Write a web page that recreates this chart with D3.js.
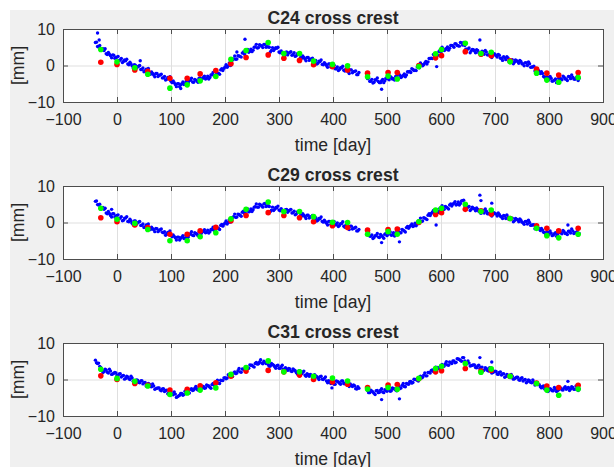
<!DOCTYPE html>
<html>
<head>
<meta charset="utf-8">
<script src="https://cdn.jsdelivr.net/npm/d3@7"></script>
<style>
  body { margin: 0; background: #ffffff; }
  text { font-family: "Liberation Sans", Arial, sans-serif; fill: #262626; }
</style>
</head>
<body>
<div id="grafico"></div>
<script>
// sampling days of the dense (blue) measurements, two campaigns,
// each read in two interleaved passes (A / A2, B / B2)
const blueDaysA = d3.range(-40, 449, 4);   // 123 days
const blueDaysA2 = d3.range(-38, 447, 4);  // 122 days
const blueDaysB = d3.range(464, 857, 4);   // 99 days
const blueDaysB2 = d3.range(466, 855, 4);  // 98 days

// days of the periodic survey points (red / green)
const markerDays = [-30, 0, 33, 57, 98, 130, 154, 183, 211, 239, 280, 309, 338, 364, 399,
                    427, 464, 502, 519, 559, 590, 601, 645, 674, 693, 728, 777, 796, 818, 854];

const xTicks = [-100, 0, 100, 200, 300, 400, 500, 600, 700, 800, 900];
const yTicks = [-10, 0, 10];

const titles = ['C24 cross crest', 'C29 cross crest', 'C31 cross crest'];

// ---- C24 ----
const c24BlueA = [
  6.3, 5.2, 5.5, 4.3, 4.1, 3.2, 3.6, 2.7, 2.9, 2.0,
  2.3, 1.4, 1.9, 1.1, 1.3, 0.4, 0.9, -0.1, 0.2, -0.7,
  -0.2, -1.1, -0.7, -1.5, -1.1, -2.1, -1.8, -2.6, -2.2, -3.0,
  -2.6, -3.4, -3.0, -3.8, -3.4, -4.3, -4.2, -5.2, -5.0, -5.8,
  -5.0, -5.2, -4.4, -4.7, -4.0, -4.5, -3.8, -4.2, -3.5, -4.0,
  -3.3, -3.7, -2.9, -3.3, -2.5, -2.8, -1.9, -2.2, -1.2, -1.4,
  -0.4, -0.5, 0.7, 0.6, 1.8, 1.7, 2.7, 2.5, 3.4, 3.1,
  4.0, 3.6, 4.5, 4.2, 5.1, 4.8, 5.7, 5.3, 5.8, 5.0,
  5.1, 3.7, 4.9, 4.5, 4.7, 3.7, 4.0, 3.1, 3.6, 2.9,
  3.6, 2.8, 3.5, 2.7, 3.1, 2.2, 2.6, 1.8, 2.2, 1.4,
  1.8, 1.0, 1.4, 0.6, 1.1, 0.3, 0.8, 0.0, 0.4, -0.4,
  -0.1, -0.9, -0.4, -1.1, -0.6, -1.3, -0.9, -1.7, -1.2, -2.0,
  -1.6, -2.5, -1.9
];
const c24BlueA2 = [
  6.4, 5.1, 4.2, 4.6, 4.6, 3.0, 3.1, 2.1, 2.8, 2.2,
  2.5, 1.5, 0.8, 1.5, 1.7, 0.2, 0.4, -0.7, 0.1, -0.4,
  0.0, -1.1, -1.7, -1.0, -0.8, -2.4, -2.2, -3.1, -2.2, -2.7,
  -2.4, -3.4, -4.0, -3.3, -3.1, -4.7, -4.7, -5.8, -5.0, -5.3,
  -4.5, -5.0, -5.2, -4.1, -3.5, -4.6, -4.0, -4.6, -3.4, -3.6,
  -2.9, -3.5, -3.7, -2.6, -1.9, -2.8, -2.1, -2.4, -0.9, -0.8,
  0.2, -0.1, 0.0, 1.5, 2.6, 1.8, 2.6, 2.3, 3.7, 3.7,
  4.4, 3.9, 3.8, 5.0, 5.8, 4.9, 5.5, 4.9, 5.8, 5.2,
  5.0, 4.1, 4.1, 4.9, 5.0, 3.5, 3.6, 2.7, 3.7, 3.4,
  3.8, 3.0, 2.5, 3.2, 3.5, 2.0, 2.2, 1.3, 2.2, 1.7,
  2.0, 1.0, 0.4, 1.2, 1.5, 0.2, 0.4, -0.5, 0.4, -0.2,
  0.1, -0.9, -1.4, -0.6, -0.2, -1.5, -1.3, -2.2, -1.2, -1.7,
  -1.5, -2.5
];
const c24BlueB = [
  -3.6, -4.3, -3.8, -4.6, -4.0, -4.4, -4.7, -3.8, -4.2, -3.6,
  -3.9, -3.3, -3.6, -3.0, -3.4, -2.7, -3.0, -2.3, -2.6, -1.8,
  -1.9, -1.1, -1.3, -0.4, -0.6, 0.3, 0.2, 1.1, 1.0, 1.9,
  1.9, 2.9, 2.8, 3.8, 3.7, 4.6, 4.3, 5.1, 4.7, 5.5,
  5.0, 5.9, 5.4, 6.3, 5.6, 5.5, 4.5, 4.8, 4.0, 4.3,
  3.5, 4.1, 3.4, 3.9, 3.1, 3.7, 2.9, 3.5, 2.7, 3.1,
  2.3, 2.8, 2.0, 2.4, 1.6, 2.1, 1.3, 1.6, 0.9, 1.3,
  0.6, 1.1, 0.4, 0.8, 0.0, 0.5, -0.4, -0.2, -1.2, -1.3,
  -2.2, -2.2, -3.2, -3.1, -3.9, -3.5, -4.2, -3.7, -4.3, -3.6,
  -3.9, -3.2, -3.7, -3.0, -3.6, -3.2, -3.8, -3.1, -3.5
];
const c24BlueB2 = [
  -3.4, -4.3, -4.8, -3.9, -3.4, -4.7, -4.2, -4.7, -3.5, -3.6,
  -3.0, -3.7, -4.0, -2.9, -2.3, -3.3, -2.7, -3.1, -1.7, -1.6,
  -0.9, -1.4, -1.4, -0.2, 0.7, -0.1, 0.7, 0.4, 1.9, 2.0,
  3.0, 2.7, 2.8, 4.1, 5.0, 4.1, 4.7, 4.2, 5.5, 5.4,
  6.0, 5.5, 5.3, 6.2, 6.3, 4.5, 4.5, 3.5, 4.4, 4.0,
  4.3, 3.5, 3.0, 3.8, 4.1, 2.9, 3.1, 2.2, 3.2, 2.7,
  3.0, 2.0, 1.4, 2.1, 2.4, 1.0, 1.3, 0.5, 1.5, 1.1,
  1.4, 0.5, -0.1, 0.7, 1.0, -0.5, -0.4, -1.5, -0.9, -1.7,
  -1.7, -3.0, -3.8, -3.3, -3.0, -4.3, -4.0, -4.7, -3.5, -3.6,
  -2.9, -3.7, -4.1, -3.1, -2.6, -3.7, -3.4, -4.1
];
const c24Extra = [[-36, 8.9], [-33, 7.0], [43, 1.3], [118, -6.3], [222, 3.7], [237, 7.2],
                  [490, -6.5], [592, -0.3], [672, 7.0]];
const c24Red = [0.9, 0.3, -1.2, -1.6, -3.5, -3.5, -2.3, -1.4, 0.5, 2.2, 2.9, 2.0, 1.4, 0.2, -0.3,
                -1.2, -2.1, -1.9, -1.9, 0.0, 2.1, 2.7, 3.8, 3.1, 2.7, 1.3, -1.0, -2.1, -2.6, -1.9];
const c24Green = [4.4, 1.0, -0.6, -2.4, -6.2, -5.3, -4.2, -3.0, 1.7, 4.1, 6.3, 3.3, 3.3, 1.2, 0.3,
                  -0.1, -3.1, -2.9, -3.7, -0.3, 3.2, 4.4, 6.1, 3.3, 3.6, 1.0, -2.1, -4.0, -4.6, -3.3];

// ---- C29 ----
const c29BlueA = [
  5.8, 4.9, 5.0, 4.0, 3.6, 2.6, 3.0, 1.9, 2.4, 1.5,
  1.9, 1.1, 1.6, 0.6, 1.2, 0.3, 0.9, -0.2, 0.4, -0.5,
  0.1, -0.8, -0.4, -1.2, -0.7, -1.6, -1.3, -2.0, -1.6, -2.5,
  -2.0, -2.7, -2.5, -3.2, -2.7, -3.5, -3.4, -4.2, -4.0, -4.8,
  -4.0, -4.4, -3.5, -4.0, -3.1, -3.5, -2.8, -3.2, -2.6, -3.0,
  -2.4, -2.8, -2.1, -2.5, -1.9, -2.2, -1.3, -1.6, -0.8, -1.0,
  -0.1, -0.4, 0.8, 0.6, 1.6, 1.4, 2.3, 2.0, 2.8, 2.5,
  3.3, 2.9, 3.7, 3.5, 4.3, 4.2, 5.0, 4.6, 5.1, 4.4,
  4.6, 3.0, 4.2, 3.6, 4.0, 3.4, 3.8, 3.0, 3.5, 2.8,
  3.4, 2.6, 3.1, 2.3, 2.8, 2.0, 2.4, 1.6, 2.0, 1.2,
  1.6, 0.9, 1.3, 0.6, 1.0, 0.3, 0.6, -0.2, 0.3, -0.5,
  0.0, -0.6, -0.1, -0.8, -0.3, -1.0, -0.7, -1.4, -1.0, -1.8,
  -1.5, -2.3, -1.9
];
const c29BlueA2 = [
  5.9, 4.8, 3.9, 4.1, 3.9, 2.4, 2.5, 1.5, 2.4, 1.8,
  2.1, 1.2, 0.5, 1.2, 1.6, 0.2, 0.4, -0.6, 0.4, -0.1,
  0.3, -0.8, -1.4, -0.7, -0.4, -1.9, -1.7, -2.5, -1.7, -2.2,
  -1.8, -2.8, -3.5, -2.7, -2.3, -3.9, -3.8, -4.8, -4.0, -4.3,
  -3.6, -4.2, -4.4, -3.3, -2.5, -3.6, -3.0, -3.6, -2.4, -2.6,
  -2.0, -2.7, -2.9, -1.9, -1.3, -2.2, -1.5, -1.9, -0.5, -0.5,
  0.4, 0.0, 0.1, 1.4, 2.3, 1.5, 2.2, 1.7, 3.1, 3.0,
  3.7, 3.1, 3.0, 4.2, 5.1, 4.2, 4.8, 4.2, 5.2, 4.6,
  4.4, 3.4, 3.3, 4.1, 4.5, 3.2, 3.4, 2.6, 3.6, 3.2,
  3.6, 2.7, 2.1, 2.9, 3.2, 1.8, 2.0, 1.1, 2.0, 1.5,
  1.9, 0.9, 0.4, 1.1, 1.5, 0.1, 0.2, -0.7, 0.3, -0.2,
  0.3, -0.6, -1.1, -0.3, 0.2, -1.3, -1.1, -1.9, -1.0, -1.6,
  -1.3, -2.3
];
const c29BlueB = [
  -3.0, -3.7, -3.4, -4.1, -3.6, -4.0, -3.3, -3.9, -3.2, -3.6,
  -2.9, -3.5, -2.8, -3.3, -2.4, -2.8, -1.9, -2.3, -1.4, -1.6,
  -0.8, -1.1, -0.2, -0.4, 0.5, 0.3, 1.3, 1.0, 2.0, 1.9,
  2.8, 2.5, 3.5, 3.1, 4.0, 3.6, 4.4, 4.0, 4.8, 4.5,
  5.3, 4.8, 5.6, 5.2, 6.0, 4.6, 4.0, 4.4, 3.6, 3.9,
  3.2, 3.6, 2.9, 3.3, 2.6, 3.1, 2.4, 2.8, 2.1, 2.5,
  1.8, 2.2, 1.5, 1.9, 1.1, 1.5, 0.8, 1.2, 0.5, 0.9,
  0.2, 0.6, -0.1, 0.3, -0.4, 0.0, -0.7, -0.6, -1.4, -1.5,
  -2.2, -2.1, -2.8, -2.6, -3.3, -2.9, -3.4, -2.8, -3.3, -2.7,
  -3.1, -2.5, -3.0, -2.4, -2.9, -2.3, -2.8, -2.5, -3.0
];
const c29BlueB2 = [
  -2.8, -3.8, -4.4, -3.6, -3.0, -4.1, -3.6, -4.3, -3.0, -3.2,
  -2.6, -3.4, -3.7, -2.6, -1.8, -2.8, -2.1, -2.6, -1.1, -1.1,
  -0.4, -0.9, -0.9, 0.4, 1.2, 0.4, 1.2, 0.8, 2.4, 2.5,
  3.3, 2.8, 2.7, 3.9, 4.6, 3.6, 4.2, 3.7, 5.1, 5.0,
  5.7, 5.0, 4.8, 5.9, 6.1, 3.9, 4.2, 3.3, 4.2, 3.7,
  4.0, 3.1, 2.5, 3.3, 3.7, 2.4, 2.6, 1.8, 2.7, 2.3,
  2.6, 1.7, 1.1, 1.8, 2.1, 0.8, 1.0, 0.2, 1.1, 0.7,
  1.0, 0.1, -0.5, 0.3, 0.6, -0.8, -0.7, -1.7, -1.1, -1.8,
  -1.6, -2.7, -3.3, -2.7, -2.3, -3.6, -3.1, -3.8, -2.6, -2.8,
  -2.2, -3.0, -3.3, -2.4, -1.8, -3.0, -2.7, -3.5
];
const c29Extra = [[-10, 3.6], [490, -5.5], [523, -5.3], [591, -0.7], [672, 7.5], [674, 6.0],
                  [694, 5.3], [835, -0.7]];
const c29Red = [1.3, 0.2, -0.7, -1.4, -3.2, -3.2, -2.3, -1.3, 0.5, 1.9, 2.7, 1.9, 1.3, 0.2, -0.9,
                -1.4, -2.1, -1.9, -1.8, 0.0, 2.2, 2.7, 3.6, 3.2, 2.3, 1.1, -0.9, -1.6, -2.3, -1.6];
const c29Green = [3.9, 0.9, -0.2, -1.9, -5.0, -5.0, -3.9, -2.8, 1.0, 3.6, 5.6, 3.0, 3.0, 1.6, 0.05,
                  0.0, -3.2, -2.5, -3.2, 0.2, 3.4, 3.9, 5.0, 3.0, 3.4, 1.1, -1.6, -3.6, -4.2, -3.2];

// ---- C31 ----
const c31BlueA = [
  5.3, 4.4, 3.6, 2.7, 2.2, 2.6, 1.8, 2.3, 1.5, 1.9,
  1.1, 1.5, 0.7, 1.1, 0.3, 0.7, 0.0, 0.4, -0.4, -0.1,
  -0.8, -0.4, -1.2, -0.8, -1.6, -1.3, -2.0, -1.8, -2.5, -2.3,
  -2.9, -2.6, -3.3, -2.9, -3.6, -3.4, -4.2, -4.0, -4.7, -4.3,
  -3.8, -4.1, -3.2, -3.5, -2.7, -3.0, -2.4, -2.7, -2.1, -2.4,
  -1.9, -2.3, -1.7, -2.1, -1.4, -1.6, -0.8, -1.0, -0.2, -0.3,
  0.5, 0.4, 1.2, 1.0, 1.8, 1.6, 2.4, 2.1, 2.9, 2.6,
  3.4, 3.1, 3.9, 3.6, 4.4, 4.2, 4.8, 4.5, 5.0, 4.4,
  4.1, 3.7, 4.1, 3.5, 3.8, 3.1, 3.5, 2.8, 3.2, 2.5,
  2.9, 2.2, 2.6, 1.9, 2.3, 1.6, 2.0, 1.2, 1.6, 0.9,
  1.2, 0.6, 1.0, 0.4, 0.8, 0.1, 0.3, -0.4, -0.3, -1.1,
  -0.7, -1.3, -0.5, -1.0, -0.4, -1.1, -0.8, -1.5, -1.2, -1.9,
  -1.7, -2.6, -2.4
];
const c31BlueA2 = [
  4.6, 4.5, 3.3, 1.9, 2.8, 2.0, 2.8, 1.4, 1.7, 1.8,
  1.0, 1.6, 1.0, 0.1, 0.9, 0.2, 0.9, -0.5, -0.3, -0.2,
  -0.9, -0.3, -0.9, -1.8, -1.1, -1.9, -1.2, -2.7, -2.4, -2.3,
  -3.1, -2.5, -3.0, -3.9, -3.1, -4.0, -3.4, -4.9, -4.5, -3.8,
  -4.3, -3.2, -3.3, -3.7, -2.5, -2.9, -1.9, -2.9, -2.3, -1.9,
  -2.4, -1.5, -1.8, -2.4, -1.1, -1.4, -0.2, -1.1, -0.3, 0.4,
  0.2, 1.3, 1.2, 0.8, 2.1, 1.8, 3.0, 2.0, 2.8, 3.3,
  3.0, 4.0, 3.9, 3.4, 4.7, 4.3, 5.4, 4.3, 4.7, 4.6,
  3.6, 4.4, 3.9, 3.1, 3.9, 3.1, 3.9, 2.5, 2.9, 3.0,
  2.3, 2.9, 2.4, 1.5, 2.4, 1.6, 2.3, 0.9, 1.3, 1.4,
  0.6, 1.3, 0.8, 0.0, 0.9, 0.0, 0.7, -0.9, -0.7, -0.6,
  -1.3, -0.4, -0.7, -1.3, -0.4, -1.2, -0.5, -1.9, -1.6, -1.5,
  -2.5, -2.0
];
const c31BlueB = [
  -3.0, -3.6, -3.2, -3.8, -3.1, -3.6, -2.9, -3.4, -2.8, -3.2,
  -2.6, -3.1, -2.5, -2.9, -2.1, -2.5, -1.6, -1.9, -1.1, -1.3,
  -0.5, -0.8, 0.0, -0.2, 0.6, 0.4, 1.2, 1.0, 1.9, 1.8,
  2.6, 2.4, 3.3, 3.0, 3.8, 3.5, 4.3, 4.0, 4.8, 4.4,
  5.1, 4.7, 5.6, 5.2, 6.0, 5.1, 4.3, 4.5, 3.8, 4.0,
  3.3, 3.7, 3.0, 3.4, 2.6, 3.0, 2.3, 2.7, 1.9, 2.3,
  1.5, 1.9, 1.2, 1.6, 0.8, 1.2, 0.5, 0.9, 0.2, 0.6,
  -0.1, 0.3, -0.4, 0.0, -0.6, -0.3, -0.9, -0.7, -1.3, -1.4,
  -2.0, -1.9, -2.6, -2.4, -3.0, -2.7, -3.1, -2.6, -3.0, -2.5,
  -2.8, -2.3, -2.7, -2.2, -2.6, -2.2, -2.7, -2.3, -2.6
];
const c31BlueB2 = [
  -3.6, -2.9, -3.4, -4.1, -3.0, -3.5, -2.5, -3.6, -3.0, -2.6,
  -3.2, -2.3, -2.6, -3.1, -1.9, -2.3, -1.1, -2.0, -1.2, -0.6,
  -1.0, 0.1, 0.0, -0.4, 0.9, 0.6, 1.8, 1.0, 1.9, 2.5,
  2.2, 3.4, 3.3, 2.8, 4.1, 3.7, 4.9, 3.9, 4.6, 5.1,
  4.6, 5.7, 5.5, 5.0, 6.0, 4.5, 5.1, 3.7, 3.9, 4.0,
  3.2, 3.9, 3.3, 2.4, 3.2, 2.5, 3.2, 1.8, 2.1, 2.2,
  1.4, 2.1, 1.5, 0.6, 1.4, 0.7, 1.4, 0.1, 0.4, 0.6,
  -0.2, 0.5, -0.1, -0.9, -0.1, -0.8, -0.1, -1.5, -1.4, -1.4,
  -2.3, -1.8, -2.4, -3.3, -2.5, -3.1, -2.2, -3.3, -2.8, -2.4,
  -2.9, -2.0, -2.4, -3.0, -2.0, -2.7, -1.8, -3.0
];
const c31Extra = [[398, -2.3], [490, -5.5], [523, -5.3], [672, 6.0], [694, 4.8], [835, -0.5]];
const c31Red = [1.0, 0.0, -1.1, -1.6, -2.9, -2.7, -1.7, -0.9, 0.9, 2.3, 2.5, 2.1, 1.2, 0.0, -0.7,
                -1.3, -2.2, -1.5, -1.4, 0.2, 2.1, 2.4, 3.0, 2.3, 2.5, 0.9, -1.0, -1.8, -2.2, -1.6];
const c31Green = [2.8, 0.3, -0.5, -1.8, -4.1, -3.7, -2.9, -2.3, 1.4, 3.3, 5.1, 2.1, 2.1, 0.9, 0.4,
                  -0.4, -2.6, -2.2, -2.7, 0.3, 3.0, 3.6, 4.4, 2.0, 2.9, 0.9, -1.1, -2.9, -4.3, -2.6];

const blueSets = [
    [[blueDaysA, c24BlueA], [blueDaysA2, c24BlueA2], [blueDaysB, c24BlueB], [blueDaysB2, c24BlueB2]],
    [[blueDaysA, c29BlueA], [blueDaysA2, c29BlueA2], [blueDaysB, c29BlueB], [blueDaysB2, c29BlueB2]],
    [[blueDaysA, c31BlueA], [blueDaysA2, c31BlueA2], [blueDaysB, c31BlueB], [blueDaysB2, c31BlueB2]]
];
const extras = [c24Extra, c29Extra, c31Extra];
const reds = [c24Red, c29Red, c31Red];
const greens = [c24Green, c29Green, c31Green];


// figure settings
const W = 614, H = 467;
const left = 63, right = 603, plotH = 73;
const tops = [29, 186, 343];

const svg = d3.select('#grafico').append('svg')
    .attr('width', W)
    .attr('height', H);

// grey figure background
svg.append('rect')
    .attr('x', 10).attr('y', 10)
    .attr('width', W - 10).attr('height', H - 10)
    .attr('fill', '#f0f0f0');

const x = d3.scaleLinear().domain([-100, 900]).range([left, right]);

for (let n = 0; n < titles.length; n++) {

    const top = tops[n];
    const bottom = top + plotH;
    const y = d3.scaleLinear().domain([-10, 10]).range([bottom, top]);

    const g = svg.append('g');

    // white axes area
    g.append('rect')
        .attr('x', left).attr('y', top)
        .attr('width', right - left).attr('height', plotH)
        .attr('fill', '#ffffff');

    // grid lines
    const gx = g.append('g')
        .attr('transform', `translate(0, ${bottom})`)
        .call(d3.axisBottom(x).tickValues(xTicks).tickSize(-plotH).tickFormat(''));
    const gy = g.append('g')
        .attr('transform', `translate(${left}, 0)`)
        .call(d3.axisLeft(y).tickValues(yTicks).tickSize(-(right - left)).tickFormat(''));
    [gx, gy].forEach(a => {
        a.select('.domain').remove();
        a.selectAll('line').attr('stroke', '#dfdfdf');
    });

    // tick marks, inward, on all four sides
    const bottomAxis = g.append('g')
        .attr('transform', `translate(0, ${bottom})`)
        .call(d3.axisBottom(x).tickValues(xTicks).tickSize(-5).tickPadding(11.6));
    const topAxis = g.append('g')
        .attr('transform', `translate(0, ${top})`)
        .call(d3.axisTop(x).tickValues(xTicks).tickSize(-5).tickFormat(''));
    const leftAxis = g.append('g')
        .attr('transform', `translate(${left}, 0)`)
        .call(d3.axisLeft(y).tickValues(yTicks).tickSize(-5).tickPadding(8));
    const rightAxis = g.append('g')
        .attr('transform', `translate(${right}, 0)`)
        .call(d3.axisRight(y).tickValues(yTicks).tickSize(-5).tickFormat(''));
    [bottomAxis, topAxis, leftAxis, rightAxis].forEach(a => {
        a.select('.domain').remove();
        a.selectAll('line').attr('stroke', '#4d4d4d');
        a.selectAll('text')
            .attr('font-family', '"Liberation Sans", Arial, sans-serif')
            .attr('font-size', 16)
            .attr('fill', '#262626');
    });

    // dense measurements
    let bluePts = [];
    blueSets[n].forEach(([days, vals]) => {
        bluePts = bluePts.concat(vals.map((v, k) => [days[k], v]));
    });
    bluePts = bluePts.concat(extras[n]);

    g.append('g').selectAll('circle')
        .data(bluePts)
        .join('circle')
        .attr('cx', d => x(d[0]))
        .attr('cy', d => y(d[1]))
        .attr('r', 1.7)
        .attr('fill', '#0000ff');

    // survey points
    g.append('g').selectAll('circle')
        .data(reds[n])
        .join('circle')
        .attr('cx', (d, k) => x(markerDays[k]))
        .attr('cy', d => y(d))
        .attr('r', 2.8)
        .attr('fill', '#ff0000');

    g.append('g').selectAll('circle')
        .data(greens[n])
        .join('circle')
        .attr('cx', (d, k) => x(markerDays[k]))
        .attr('cy', d => y(d))
        .attr('r', 2.8)
        .attr('fill', '#00ff00');

    // box
    g.append('rect')
        .attr('x', left + 0.5).attr('y', top + 0.5)
        .attr('width', right - left).attr('height', plotH)
        .attr('fill', 'none')
        .attr('stroke', '#4d4d4d')
        .attr('stroke-width', 1);

    // title
    g.append('text')
        .attr('x', (left + right) / 2)
        .attr('y', top - 5)
        .attr('text-anchor', 'middle')
        .attr('font-size', 17.6)
        .attr('font-weight', 'bold')
        .attr('fill', '#000')
        .text(titles[n]);

    // x label
    g.append('text')
        .attr('x', (left + right) / 2)
        .attr('y', bottom + 49)
        .attr('text-anchor', 'middle')
        .attr('font-size', 17.6)
        .text('time [day]');

    // y label
    g.append('text')
        .attr('transform', `translate(24, ${(top + bottom) / 2}) rotate(-90)`)
        .attr('text-anchor', 'middle')
        .attr('font-size', 17.6)
        .text('[mm]');
}
</script>
</body>
</html>
